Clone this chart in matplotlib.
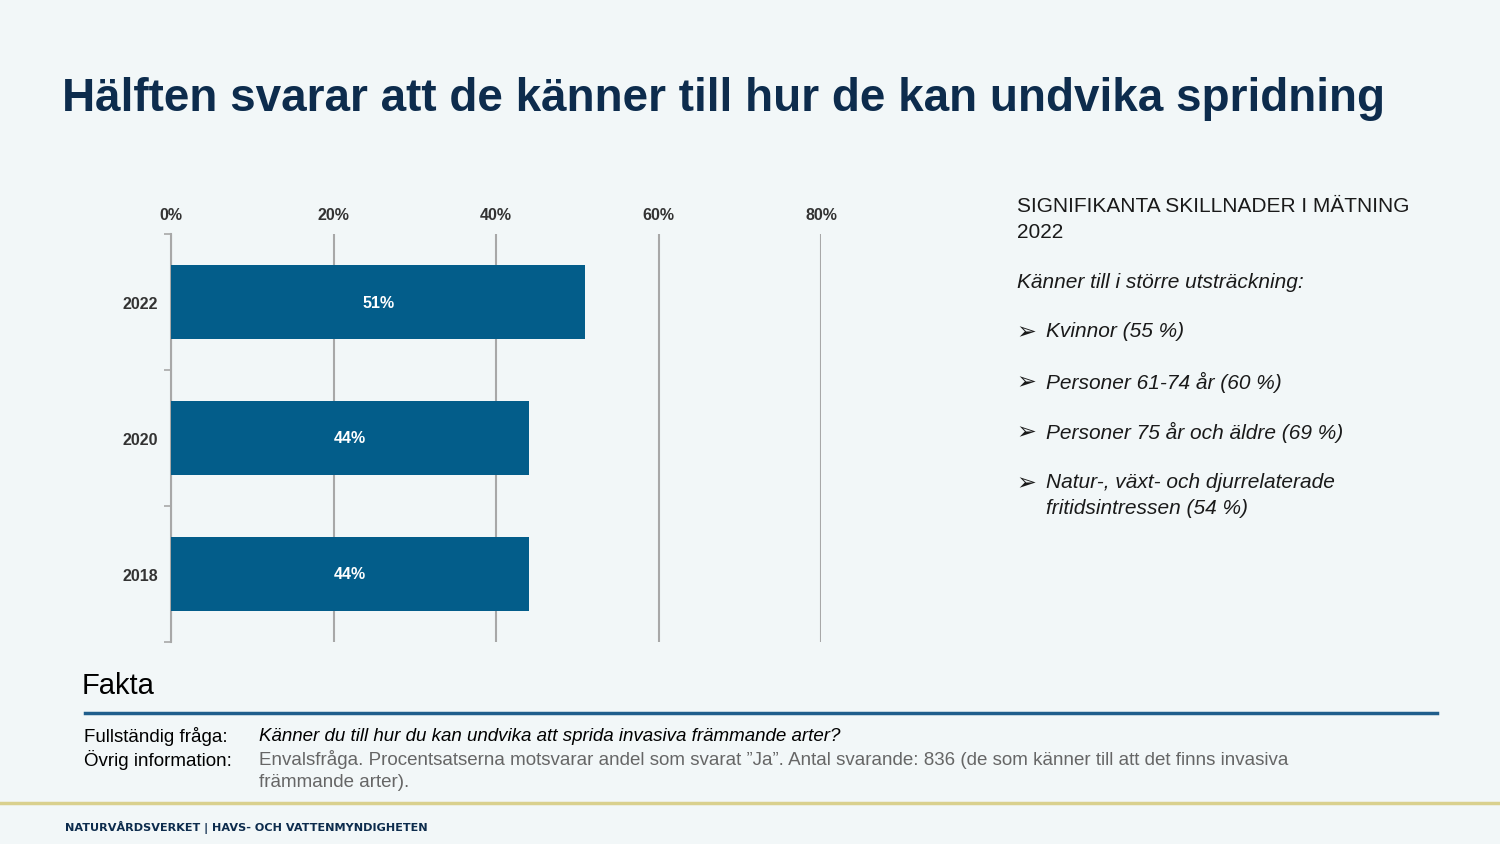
import matplotlib
matplotlib.use("Agg")
import matplotlib.pyplot as plt
from matplotlib.lines import Line2D

plt.rcParams["font.family"] = ["Liberation Sans", "DejaVu Sans"]

# data
years = ["2022", "2020", "2018"]
values = [51, 44, 44]
x_ticks = [0, 20, 40, 60, 80]

title = "Hälften svarar att de känner till hur de kan undvika spridning"
side_head = ["SIGNIFIKANTA SKILLNADER I MÄTNING", "2022"]
side_sub = "Känner till i större utsträckning:"
side_items = [
    "Kvinnor (55 %)",
    "Personer 61-74 år (60 %)",
    "Personer 75 år och äldre (69 %)",
    "Natur-, växt- och djurrelaterade\nfritidsintressen (54 %)",
]
question = "Känner du till hur du kan undvika att sprida invasiva främmande arter?"
info_lines = [
    "Envalsfråga. Procentsatserna motsvarar andel som svarat \u201dJa\u201d. Antal svarande: 836 (de som känner till att det finns invasiva",
    "främmande arter).",
]
footer = "NATURVÅRDSVERKET | HAVS- OCH VATTENMYNDIGHETEN"

BG = "#F2F7F8"
BAR = "#035D8A"
NAVY = "#0D2C4D"
GRID = "#A8A8A8"

W, H = 1500, 845
fig = plt.figure(figsize=(15, 8.45), dpi=100, facecolor=BG)


def fx(px):
    return px / W


def fy(py):
    return 1 - py / H


# title
fig.text(fx(62), fy(99), title, fontsize=33, fontweight="bold", color=NAVY,
         ha="left", va="center")

# bar chart
ax = fig.add_axes([fx(171), fy(643), fx(821) - fx(171), fy(235) - fy(643)])
ax.set_facecolor(BG)
ypos = list(range(len(years)))[::-1]
bars = ax.barh(ypos, values, height=0.545, color=BAR, zorder=3)
for b, v in zip(bars, values):
    ax.text(b.get_width() / 2, b.get_y() + b.get_height() / 2, f"{v}%",
            ha="center", va="center", color="white", fontsize=11.5,
            fontweight="bold", zorder=4)

ax.set_xlim(0, 80)
ax.set_ylim(-0.5, len(years) - 0.5)
ax.set_xticks(x_ticks)
ax.set_xticklabels([f"{t}%" for t in x_ticks])
ax.xaxis.tick_top()
ax.tick_params(axis="x", length=0, pad=9, labelsize=11.5, labelcolor="#333333")
for lab in ax.get_xticklabels():
    lab.set_fontweight("bold")
ax.set_yticks(ypos)
ax.set_yticklabels(years)
ax.set_yticks([i - 0.5 for i in range(len(years) + 1)], minor=True)
ax.tick_params(axis="y", which="major", length=0, pad=9.5, labelsize=11.5,
               labelcolor="#333333")
ax.tick_params(axis="y", which="minor", length=5, color=GRID, width=1.2)
for lab in ax.get_yticklabels():
    lab.set_fontweight("bold")
ax.grid(axis="x", color=GRID, linewidth=1.5, zorder=0)
for s in ["top", "right", "bottom"]:
    ax.spines[s].set_visible(False)
ax.spines["left"].set_color(GRID)
ax.spines["left"].set_linewidth(1.5)

# side text
tx = fx(1017)
fig.text(tx, fy(207), side_head[0], fontsize=15, color="#1a1a1a", va="center")
fig.text(tx, fy(232), side_head[1], fontsize=15, color="#1a1a1a", va="center")
fig.text(tx, fy(282), side_sub, fontsize=15, style="italic", color="#1a1a1a",
         va="center")
item_y = [332, 382, 432, 483]
for yy, item in zip(item_y, side_items):
    fig.text(fx(1016), fy(yy), "\u27a2", fontsize=17, color="#1a1a1a",
             va="center", family=["DejaVu Sans"])
    for i, line in enumerate(item.split("\n")):
        fig.text(fx(1046), fy(yy + 25 * i), line, fontsize=15, style="italic",
                 color="#1a1a1a", va="center")

# facts block
fig.text(fx(82), fy(686), "Fakta", fontsize=21, color="black", va="center")
fig.add_artist(Line2D([fx(85), fx(1437)], [fy(714), fy(714)], color="#1F5E8C",
                      linewidth=2.5))
fig.text(fx(84), fy(737), "Fullständig fråga:", fontsize=13.5, color="black",
         va="center")
fig.text(fx(84), fy(760), "Övrig information:", fontsize=13.5, color="black",
         va="center")
fig.text(fx(259), fy(737), question, fontsize=13.5, style="italic",
         color="black", va="center")
fig.text(fx(259), fy(760), info_lines[0], fontsize=13.5, color="#666666",
         va="center")
fig.text(fx(259), fy(783), info_lines[1], fontsize=13.5, color="#666666",
         va="center")

# footer
fig.add_artist(Line2D([0, 1], [fy(804), fy(804)], color="#D9D08E",
                      linewidth=2.5))
fig.text(fx(65), fy(827), footer, fontsize=8.1, fontweight="bold", color=NAVY,
         va="center", family=["DejaVu Sans"])

fig.savefig("out.png", dpi=100, facecolor=BG)
